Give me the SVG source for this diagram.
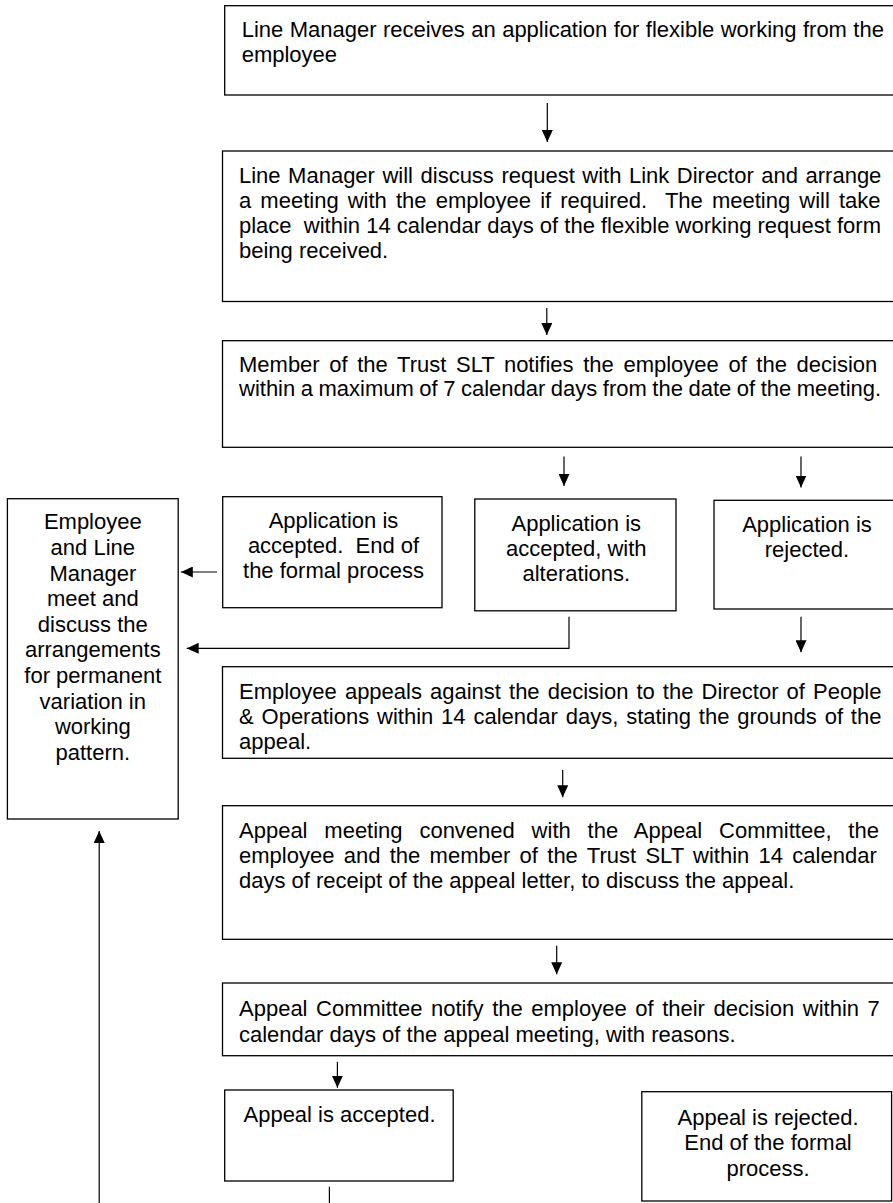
<svg xmlns="http://www.w3.org/2000/svg" width="893" height="1203" viewBox="0 0 893 1203">
<style>
.box{fill:#fff;stroke:#000;stroke-width:1.3}
.t{font-family:"Liberation Sans",Arial,sans-serif;font-size:22px;fill:#000;white-space:pre}
.c{text-anchor:middle}
.conn{fill:none;stroke:#000;stroke-width:1.2}
</style>
<defs>
<marker id="ah" markerUnits="userSpaceOnUse" markerWidth="12" markerHeight="11" refX="12" refY="5.5" orient="auto">
<path d="M0,0 L12,5.5 L0,11 z" fill="#000"/>
</marker>
</defs>
<rect width="893" height="1203" fill="#fff"/>

<g id="n1">
<rect class="box" x="224.7" y="5.7" width="690" height="89.3"/>
<text class="t" x="241.7" y="36.7" word-spacing="0.3">Line Manager receives an application for flexible working from the</text>
<text class="t" x="241.7" y="61.7">employee</text>
</g>

<g id="n2">
<rect class="box" x="222.5" y="151" width="690" height="150.5"/>
<text class="t" x="239" y="182.7" word-spacing="1.4">Line Manager will discuss request with Link Director and arrange</text>
<text class="t" x="239" y="207.7" word-spacing="3">a meeting with the employee if required.  The meeting will take</text>
<text class="t" x="239" y="233">place  within 14 calendar days of the flexible working request form</text>
<text class="t" x="239" y="258.3">being received.</text>
</g>

<g id="n3">
<rect class="box" x="222.5" y="340.7" width="690" height="106.6"/>
<text class="t" x="239" y="372" word-spacing="3.5">Member of the Trust SLT notifies the employee of the decision</text>
<text class="t" x="239" y="396" word-spacing="-0.6">within a maximum of 7 calendar days from the date of the meeting.</text>
</g>

<g id="n4">
<rect class="box" x="7.4" y="498.7" width="170.8" height="320.3"/>
<text class="t c" x="92.8" y="529.3">Employee</text>
<text class="t c" x="92.8" y="554.9">and Line</text>
<text class="t c" x="92.8" y="580.5">Manager</text>
<text class="t c" x="92.8" y="606.1">meet and</text>
<text class="t c" x="92.8" y="631.7">discuss the</text>
<text class="t c" x="92.8" y="657.3">arrangements</text>
<text class="t c" x="92.8" y="682.9">for permanent</text>
<text class="t c" x="92.8" y="708.5">variation in</text>
<text class="t c" x="92.8" y="734.1">working</text>
<text class="t c" x="92.8" y="759.7">pattern.</text>
</g>

<g id="n5">
<rect class="box" x="222.7" y="496.7" width="219.3" height="111"/>
<text class="t c" x="333.5" y="527.7">Application is</text>
<text class="t c" x="333.5" y="552.9">accepted.  End of</text>
<text class="t c" x="333.5" y="578.3">the formal process</text>
</g>

<g id="n6">
<rect class="box" x="474.8" y="499" width="201.2" height="111.8"/>
<text class="t c" x="576.3" y="530.7">Application is</text>
<text class="t c" x="576.3" y="555.9">accepted, with</text>
<text class="t c" x="576.3" y="581">alterations.</text>
</g>

<g id="n7">
<rect class="box" x="714" y="500.3" width="200" height="108.7"/>
<text class="t c" x="807" y="531.5">Application is</text>
<text class="t c" x="807" y="556.7">rejected.</text>
</g>

<g id="n8">
<rect class="box" x="222.5" y="666.7" width="690" height="91.6"/>
<text class="t" x="239" y="698.7" word-spacing="1.95">Employee appeals against the decision to the Director of People</text>
<text class="t" x="239" y="724" word-spacing="1.75">&amp; Operations within 14 calendar days, stating the grounds of the</text>
<text class="t" x="239" y="749">appeal.</text>
</g>

<g id="n9">
<rect class="box" x="222.5" y="805.7" width="690" height="133.6"/>
<text class="t" x="239" y="837.5" word-spacing="10.7">Appeal meeting convened with the Appeal Committee, the</text>
<text class="t" x="239" y="862.9" word-spacing="3.2">employee and the member of the Trust SLT within 14 calendar</text>
<text class="t" x="239" y="888.3">days of receipt of the appeal letter, to discuss the appeal.</text>
</g>

<g id="n10">
<rect class="box" x="222.5" y="983" width="690" height="72.7"/>
<text class="t" x="239" y="1016" word-spacing="2.45">Appeal Committee notify the employee of their decision within 7</text>
<text class="t" x="239" y="1041.5">calendar days of the appeal meeting, with reasons.</text>
</g>

<g id="n11">
<rect class="box" x="224.7" y="1090" width="228.5" height="91"/>
<text class="t c" x="339.5" y="1121.7">Appeal is accepted.</text>
</g>

<g id="n12">
<rect class="box" x="641.8" y="1091.7" width="249.8" height="109.3"/>
<text class="t c" x="768" y="1124.7">Appeal is rejected.</text>
<text class="t c" x="768" y="1150.2">End of the formal</text>
<text class="t c" x="768" y="1175.7">process.</text>
</g>

<g id="connectors">
<line class="conn" x1="547.3" y1="103" x2="547.3" y2="142" marker-end="url(#ah)"/>
<line class="conn" x1="546.8" y1="308" x2="546.8" y2="335" marker-end="url(#ah)"/>
<line class="conn" x1="564" y1="456.5" x2="564" y2="486" marker-end="url(#ah)"/>
<line class="conn" x1="801" y1="456.5" x2="801" y2="487.5" marker-end="url(#ah)"/>
<line class="conn" x1="217" y1="572" x2="180.8" y2="572" marker-end="url(#ah)"/>
<path class="conn" d="M569,616.7 V648.3 H186.7" marker-end="url(#ah)"/>
<line class="conn" x1="801" y1="616.7" x2="801" y2="652.3" marker-end="url(#ah)"/>
<line class="conn" x1="562.7" y1="770" x2="562.7" y2="797.3" marker-end="url(#ah)"/>
<line class="conn" x1="556.7" y1="945.7" x2="556.7" y2="974.3" marker-end="url(#ah)"/>
<line class="conn" x1="337.4" y1="1061.7" x2="337.4" y2="1087.7" marker-end="url(#ah)"/>
<line class="conn" x1="329.4" y1="1186.7" x2="329.4" y2="1203"/>
<line class="conn" x1="99.2" y1="1203" x2="99.2" y2="831" marker-end="url(#ah)"/>
</g>
</svg>
